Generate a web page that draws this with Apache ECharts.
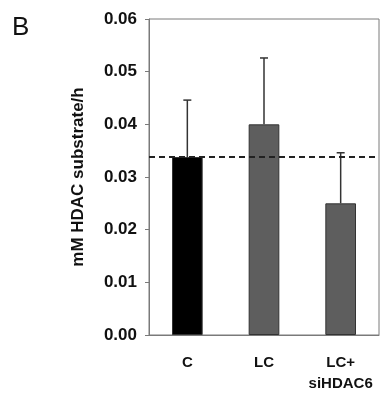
<!DOCTYPE html>
<html>
<head>
<meta charset="utf-8">
<style>
  html, body { margin: 0; padding: 0; background: #fff; }
  #chart { width: 382px; height: 394px; }
</style>
<script src="https://cdn.jsdelivr.net/npm/echarts@6/dist/echarts.min.js"></script>
</head>
<body>
<div id="chart"></div>
<script>
const categories = ['C', 'LC', 'LC+\nsiHDAC6'];
const means = [0.0338, 0.0400, 0.0250];
const errUpper = [0.0446, 0.0526, 0.0346];
const barColors = ['#000000', '#5e5e5e', '#5e5e5e'];
const baseline = 0.0338;
const yTicks = { min: 0, max: 0.06, interval: 0.01 };

const FONT = 'Arial, "Liberation Sans", sans-serif';
const chart = echarts.init(document.getElementById('chart'));

const option = {
    animation: false,
    graphic: [{
        type: 'text',
        left: 12,
        top: 15,
        style: { text: 'B', font: '26px ' + FONT, fill: '#111' }
    }],
    grid: {
        left: 149, right: 3, top: 19, bottom: 56,
        show: true, borderColor: '#7a7a7a', borderWidth: 1
    },
    xAxis: {
        type: 'category',
        data: categories,
        axisLine: { lineStyle: { color: '#7a7a7a', width: 1 } },
        axisTick: { show: false },
        axisLabel: {
            interval: 0,
            color: '#111', fontWeight: 'bold', fontSize: 15,
            fontFamily: FONT,
            margin: 17, lineHeight: 21
        }
    },
    yAxis: {
        type: 'value',
        min: yTicks.min, max: yTicks.max, interval: yTicks.interval,
        name: 'mM HDAC substrate/h',
        nameLocation: 'middle',
        nameGap: 62,
        nameTextStyle: {
            color: '#111', fontWeight: 'bold', fontSize: 17,
            fontFamily: FONT
        },
        axisLine: { show: true, lineStyle: { color: '#7a7a7a', width: 1 } },
        axisTick: { show: true, length: 4, lineStyle: { color: '#7a7a7a' } },
        splitLine: { show: false },
        axisLabel: {
            color: '#111', fontWeight: 'bold', fontSize: 17,
            fontFamily: FONT,
            margin: 12,
            formatter: v => v.toFixed(2)
        }
    },
    series: [
        {
            type: 'bar',
            barWidth: '40%',
            z: 2,
            data: means.map((v, i) => ({
                value: v,
                itemStyle: { color: barColors[i], borderColor: '#333', borderWidth: 1 }
            }))
        },
        {
            // upper error bars
            type: 'custom',
            z: 1,
            data: means.map((v, i) => [i, v, errUpper[i]]),
            renderItem: (params, api) => {
                const base = api.coord([api.value(0), api.value(1)]);
                const top = api.coord([api.value(0), api.value(2)]);
                const style = { stroke: '#333', lineWidth: 1.5 };
                return {
                    type: 'group',
                    children: [
                        { type: 'line', shape: { x1: base[0], y1: base[1], x2: top[0], y2: top[1] }, style },
                        { type: 'line', shape: { x1: top[0] - 4, y1: top[1], x2: top[0] + 4, y2: top[1] }, style }
                    ]
                };
            }
        },
        {
            // dashed reference line at control level
            type: 'custom',
            z: 3,
            data: [[0, baseline]],
            renderItem: (params, api) => {
                const cs = params.coordSys;
                const y = api.coord([0, api.value(1)])[1];
                return {
                    type: 'line',
                    shape: { x1: cs.x, y1: y, x2: cs.x + cs.width, y2: y },
                    style: { stroke: '#222', lineWidth: 2, lineDash: [6, 4] }
                };
            }
        }
    ]
};

chart.setOption(option);
</script>
</body>
</html>
